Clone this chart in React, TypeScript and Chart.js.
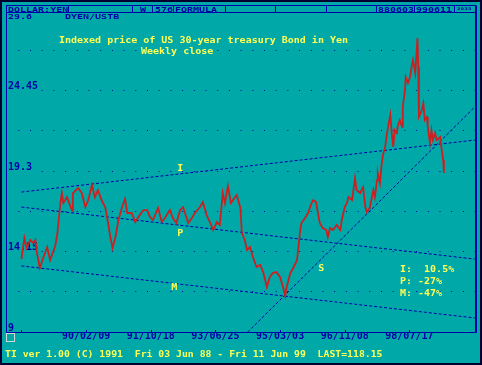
import React, { useEffect, useRef } from 'react';
import { Chart, registerables } from 'chart.js';
Chart.register(...registerables);

// ---- data (week index from 88/06/03, weekly close) ----
const weeks = [
  0, 4, 7, 12, 16, 19, 21, 25, 30, 35,
  39, 46, 49, 53, 55, 57, 62, 69, 70, 77,
  82, 87, 91, 96, 100, 104, 109, 114, 118, 121,
  124, 128, 132, 137, 141, 144, 150, 155, 161, 166,
  171, 175, 179, 186, 191, 196, 202, 206, 211, 216,
  220, 227, 232, 236, 243, 247, 252, 257, 261, 266,
  270, 274, 277, 281, 285, 288, 293, 298, 300, 304,
  307, 311, 315, 320, 325, 329, 334, 338, 342, 347,
  352, 356, 359, 361, 366, 370, 375, 377, 379, 381,
  386, 390, 395, 397, 401, 404, 406, 410, 415, 417,
  420, 424, 429, 434, 436, 440, 443, 445, 450, 454,
  456, 461, 465, 468, 470, 474, 479, 481, 484, 485,
  488, 490, 492, 495, 497, 499, 502, 504, 506, 508,
  511, 512, 515, 518, 519, 522, 523, 526, 529, 531,
  533, 536, 538, 539, 540, 541, 545, 547, 549, 552,
  553, 556, 558, 560, 563, 565, 570, 572, 574, 575,
];
const price = [
  13.67, 15.02, 14.38, 14.89, 14.70, 14.89, 14.12, 13.10, 13.80, 14.44,
  13.61, 14.51, 15.34, 17.26, 17.90, 17.26, 17.64, 16.75, 17.90, 18.22,
  17.90, 17.00, 17.45, 18.41, 17.64, 18.09, 17.45, 17.00, 15.98, 15.08,
  14.38, 15.08, 16.17, 17.00, 17.52, 16.62, 16.62, 16.04, 16.49, 16.81,
  16.81, 16.36, 16.17, 16.94, 16.04, 16.36, 16.81, 16.30, 15.98, 16.81,
  17.00, 15.98, 16.30, 16.62, 17.00, 17.32, 16.49, 15.98, 15.53, 16.04,
  15.85, 17.90, 17.26, 18.35, 17.26, 17.45, 17.77, 16.94, 15.34, 14.89,
  14.25, 14.44, 13.80, 13.16, 13.29, 12.84, 11.88, 12.52, 12.78, 12.84,
  12.52, 11.88, 11.31, 11.88, 12.78, 13.10, 13.61, 14.44, 15.34, 15.98,
  16.30, 16.62, 17.26, 17.45, 17.32, 16.49, 15.98, 15.66, 15.53, 15.08,
  15.66, 15.53, 15.85, 15.53, 16.17, 17.00, 17.26, 17.64, 17.45, 18.86,
  18.09, 17.90, 18.28, 17.00, 16.68, 16.94, 18.09, 17.64, 18.73, 19.18,
  18.54, 19.63, 20.33, 20.85, 21.55, 22.13, 22.89, 21.74, 20.85, 21.93,
  21.74, 22.13, 22.57, 22.13, 23.41, 24.50, 25.33, 24.94, 25.33, 25.97,
  26.42, 25.58, 27.06, 27.82, 25.97, 22.77, 23.21, 23.66, 22.57, 22.77,
  22.13, 21.10, 21.93, 21.29, 21.74, 21.29, 21.49, 20.65, 20.01, 19.18,
];

// trend lines (endpoints in week / value)
const trendWeeks = [0, 617];
const trendI = [17.96, 21.29];
const trendP = [17.0, 13.67];
const trendM = [13.23, 9.9];
const trendSWeeks = [308, 617];
const trendS = [9.0, 23.41];

// trend line labels
const lineLabelText = ['I', 'P', 'M', 'S'];
const lineLabelWeek = [216, 216, 208, 408];
const lineLabelValue = [19.48, 15.32, 11.9, 13.07];

// stats
const statText = ['I:  10.5%', 'P: -27%', 'M: -47%'];

// axes
const X_MIN = -21;
const X_MAX = 617.3;
const Y_MIN = 9;
const Y_MAX = 29.6;
const yTicks = [9, 11.575, 14.15, 16.725, 19.3, 21.875, 24.45, 27.025, 29.6];
const yTickLabels = ['9', '', '14.15', '', '19.3', '', '24.45', '', ''];
const xTickWeeks = [88, 176, 264, 352, 440, 528];
const xTickLabels = ['90/02/09', '91/10/18', '93/06/25', '95/03/03', '96/11/08', '98/07/17'];
const xNubWeeks = [0, 88, 176, 264, 352, 440, 528];

// texts
const titleText = 'Indexed price of US 30-year treasury Bond in Yen';
const subtitleText = 'Weekly close';
const footerText = 'TI ver 1.00 (C) 1991  Fri 03 Jun 88 - Fri 11 Jun 99  LAST=118.15';
const headerCells = ['DOLLAR:YEN', 'W', '576', 'FORMULA', '880603', '990611'];
const headerCellX = [8, 140, 155, 175, 378, 416];
const headerSeparators = [68, 132, 152, 173, 225, 275, 326, 376, 414, 454];
const topLabel = '29.6';
const symbolText = 'DYEN/USTB';

const BG = '#00a8a8';
const BLUE = '#0000a8';
const YELLOW = '#ffff55';
const RED = '#cc2020';
const FONT = '"DejaVu Sans Mono", monospace';

function drawText(
  ctx: CanvasRenderingContext2D,
  s: string,
  x: number,
  cy: number,
  color: string,
  sy = 0.82,
  size = 10,
  align: CanvasTextAlign = 'left',
  back?: string
) {
  ctx.save();
  ctx.font = `bold ${size}px ${FONT}`;
  ctx.textAlign = align;
  ctx.textBaseline = 'alphabetic';
  if (back) {
    const w = ctx.measureText(s).width;
    const left = align === 'center' ? x - w / 2 : x;
    ctx.fillStyle = back;
    ctx.fillRect(left - 2, cy - size * 0.5, w + 4, size);
  }
  ctx.fillStyle = color;
  ctx.translate(x, cy);
  ctx.scale(1, sy);
  ctx.fillText(s, 0, size * 0.365);
  ctx.restore();
}

const decor = {
  id: 'decor',
  beforeDraw(chart: any) {
    const ctx = chart.ctx as CanvasRenderingContext2D;
    ctx.save();
    ctx.fillStyle = BG;
    ctx.fillRect(0, 0, chart.width, chart.height);
    ctx.restore();
  },
  beforeDatasetsDraw(chart: any) {
    const ctx = chart.ctx as CanvasRenderingContext2D;
    drawText(ctx, titleText, 59, 40, YELLOW, 0.82, 10, 'left', BG);
    drawText(ctx, subtitleText, 141, 51.5, YELLOW, 0.82, 10, 'left', BG);
  },
  afterDatasetsDraw(chart: any) {
    const ctx = chart.ctx as CanvasRenderingContext2D;
    const xs = chart.scales.x;
    const ys = chart.scales.y;
    lineLabelText.forEach((t, i) => {
      drawText(ctx, t, xs.getPixelForValue(lineLabelWeek[i]), ys.getPixelForValue(lineLabelValue[i]), YELLOW, 0.82, 10, 'center');
    });
    statText.forEach((t, i) => {
      drawText(ctx, t, 400, 269 + i * 11.8, YELLOW);
    });
  },
  afterDraw(chart: any) {
    const ctx = chart.ctx as CanvasRenderingContext2D;
    const xs = chart.scales.x;
    ctx.save();
    // header band
    ctx.fillStyle = BG;
    ctx.fillRect(1, 1, 480, 12);
    ctx.strokeStyle = BLUE;
    ctx.lineWidth = 1;
    ctx.strokeRect(6.5, 5.5, 469, 7);
    ctx.beginPath();
    headerSeparators.forEach((x) => {
      ctx.moveTo(x + 0.5, 5.5);
      ctx.lineTo(x + 0.5, 12.5);
    });
    ctx.stroke();
    // plot frame
    ctx.beginPath();
    ctx.moveTo(6.5, 12.5);
    ctx.lineTo(6.5, 332.5);
    ctx.lineTo(475.5, 332.5);
    ctx.lineTo(475.5, 12.5);
    ctx.stroke();
    ctx.beginPath();
    ctx.moveTo(476.5, 5.5);
    ctx.lineTo(476.5, 333);
    ctx.stroke();
    // small tick nubs on the time axis
    ctx.beginPath();
    xNubWeeks.forEach((w) => {
      const px = Math.round(xs.getPixelForValue(w)) + 0.5;
      ctx.moveTo(px, 330);
      ctx.lineTo(px, 332);
    });
    ctx.stroke();
    // small square
    ctx.strokeStyle = '#d0d8d8';
    ctx.strokeRect(6.5, 333.5, 8, 8);
    // outer border
    ctx.strokeStyle = '#000030';
    ctx.lineWidth = 2;
    ctx.strokeRect(1, 1, 480, 363);
    ctx.restore();
    headerCells.forEach((t, i) => drawText(ctx, t, headerCellX[i], 9.2, BLUE, 0.66));
    drawText(ctx, '2033', 457, 8.3, BLUE, 0.6, 6);
    drawText(ctx, topLabel, 8, 16.6, BLUE, 0.7);
    drawText(ctx, symbolText, 65, 16.6, BLUE, 0.7);
    drawText(ctx, footerText, 5, 354.5, YELLOW, 0.8, 9.8);
  },
};

export default function App() {
  const ref = useRef<HTMLCanvasElement>(null);
  useEffect(() => {
    document.body.style.margin = '0';
    const pts = (xs: number[], ys: number[]) => xs.map((x, i) => ({ x, y: ys[i] }));
    const trendStyle = {
      borderColor: BLUE,
      borderWidth: 1,
      borderDash: [3, 2],
      pointRadius: 0,
      fill: false,
    };
    const chart = new Chart(ref.current as HTMLCanvasElement, {
      type: 'line',
      data: {
        datasets: [
          { data: pts(weeks, price), borderColor: RED, borderWidth: 1.8, pointRadius: 0, tension: 0, fill: false },
          { data: pts(trendWeeks, trendI), ...trendStyle },
          { data: pts(trendWeeks, trendP), ...trendStyle },
          { data: pts(trendWeeks, trendM), ...trendStyle },
          { data: pts(trendSWeeks, trendS), ...trendStyle },
        ] as any,
      },
      options: {
        responsive: false,
        animation: false,
        layout: { padding: { left: 6, right: 7, top: 10.3, bottom: 0 } },
        plugins: { legend: { display: false }, tooltip: { enabled: false }, title: { display: false } },
        scales: {
          x: {
            type: 'linear',
            min: X_MIN,
            max: X_MAX,
            afterBuildTicks: (s: any) => {
              s.ticks = xTickWeeks.map((v) => ({ value: v }));
            },
            afterFit: (s: any) => {
              s.height = 33;
            },
            grid: { display: false, drawTicks: false },
            border: { display: false },
            ticks: {
              autoSkip: false,
              maxRotation: 0,
              padding: -1.5,
              color: BLUE,
              font: { family: FONT, size: 10, weight: 'bold' },
              callback: (v: any) => {
                const i = xTickWeeks.indexOf(Number(v));
                return i >= 0 ? xTickLabels[i] : '';
              },
            },
          },
          y: {
            type: 'linear',
            min: Y_MIN,
            max: Y_MAX,
            afterBuildTicks: (s: any) => {
              s.ticks = yTicks.map((v) => ({ value: v }));
            },
            afterFit: (s: any) => {
              s.width = 0;
            },
            grid: { color: BLUE, lineWidth: 1, drawTicks: false },
            border: { display: false, dash: [1, 10.7], dashOffset: -0.6 },
            ticks: {
              mirror: true,
              padding: 2,
              labelOffset: -4,
              color: BLUE,
              font: { family: FONT, size: 10, weight: 'bold' },
              showLabelBackdrop: true,
              backdropColor: BG,
              backdropPadding: { top: 0, bottom: 0, left: 1, right: 2 },
              callback: (_v: any, i: number) => yTickLabels[i] ?? '',
            },
          },
        },
      } as any,
      plugins: [decor],
    });
    return () => chart.destroy();
  }, []);
  return <canvas ref={ref} width={482} height={365} style={{ display: 'block', width: 482, height: 365 }} />;
}
